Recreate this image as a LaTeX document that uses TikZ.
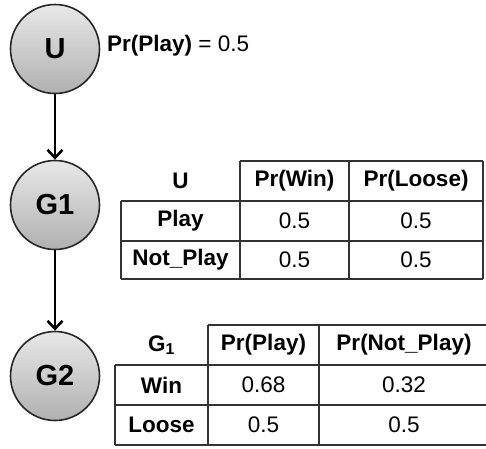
\documentclass[tikz,border=0pt]{standalone}
\usepackage{fontspec}
\setmainfont{Liberation Sans}
\usetikzlibrary{arrows.meta}
\begin{document}
\begin{tikzpicture}[x=1pt,y=-1pt,
 var/.style={circle, draw=black!85, line width=1.6pt, top color=gray!18, bottom color=gray!62, minimum size=89pt, inner sep=0pt, font=\fontsize{29}{31}\selectfont\bfseries},
 edge/.style={line width=2.8pt, -{Straight Barb[length=8pt,width=15pt,line width=2.6pt]}},
 grid/.style={line width=1.5pt, draw=black!80},
 cell/.style={font=\fontsize{22.5}{25}\selectfont, inner sep=0pt},
 hcell/.style={font=\fontsize{22.5}{25}\selectfont\bfseries, inner sep=0pt}]
\clip (0,0) rectangle (486,448);
% variables
\node[var] (U) at (55,49) {U};
\node[var] (G1) at (55,205) {G1};
\node[var] (G2) at (55,376) {G2};
\draw[edge] (U) -- (G1);
\draw[edge] (G1) -- (G2);
% prior
\node[cell, anchor=west] (prior) at (107,46) {\textbf{Pr(Play)} = 0.5};
% table 1
\draw[grid] (240,161) -- (483,161);
\draw[grid] (121,201) -- (483,201);
\draw[grid] (121,241) -- (483,241);
\draw[grid] (121,279) -- (483,279);
\draw[grid] (121,201) -- (121,279);
\draw[grid] (240,161) -- (240,279);
\draw[grid] (349,161) -- (349,279);
\draw[grid] (483,161) -- (483,279);
\node[hcell] (t1h0) at (180.5,181) {U};
\node[hcell] (t1h1) at (294.5,181) {Pr(Win)};
\node[hcell] (t1h2) at (416,181) {Pr(Loose)};
\node[hcell] (t1r1) at (180.5,221) {Play};
\node[cell] (t1a) at (294.5,221) {0.5};
\node[cell] (t1b) at (416,221) {0.5};
\node[hcell] (t1r2) at (180.5,260) {Not\_Play};
\node[cell] (t1c) at (294.5,260) {0.5};
\node[cell] (t1d) at (416,260) {0.5};
% table 2
\draw[grid] (208,325) -- (490,325);
\draw[grid] (115,365) -- (490,365);
\draw[grid] (115,405) -- (490,405);
\draw[grid] (115,445) -- (490,445);
\draw[grid] (115,365) -- (115,445);
\draw[grid] (208,325) -- (208,445);
\draw[grid] (319,325) -- (319,445);
\node[hcell] (t2h0) at (161.5,345) {G\textsubscript{1}};
\node[hcell] (t2h1) at (263.5,345) {Pr(Play)};
\node[hcell] (t2h2) at (404,345) {Pr(Not\_Play)};
\node[hcell] (t2r1) at (161.5,385) {Win};
\node[cell] (t2a) at (263.5,385) {0.68};
\node[cell] (t2b) at (404,385) {0.32};
\node[hcell] (t2r2) at (161.5,425) {Loose};
\node[cell] (t2c) at (263.5,425) {0.5};
\node[cell] (t2d) at (404,425) {0.5};
\end{tikzpicture}
\end{document}
